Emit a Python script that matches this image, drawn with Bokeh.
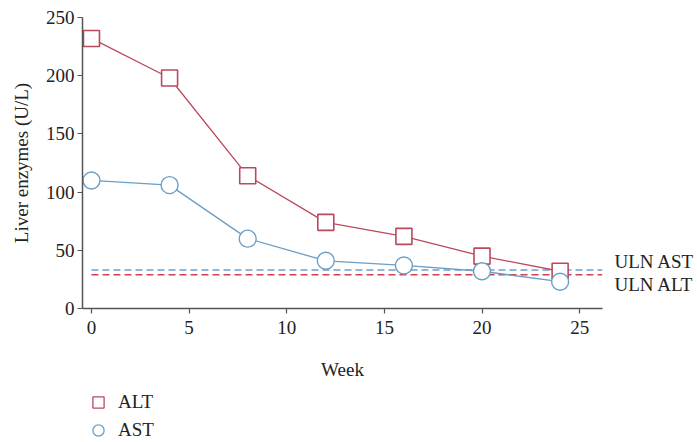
from bokeh.plotting import figure
from bokeh.layouts import column
from bokeh.models import Range1d, Legend, LegendItem, LinearAxis, FixedTicker
from bokeh.embed import file_html
from bokeh.resources import INLINE

weeks = [0, 4, 8, 12, 16, 20, 24]
alt = [232, 198, 114, 74, 62, 45, 32]
ast = [110, 106, 60, 41, 37, 32, 23]
uln_ast = 33
uln_alt = 29
uln_labels = {40: "ULN AST", 21: "ULN ALT"}
x_ticks = [0, 5, 10, 15, 20, 25]
y_ticks = [0, 50, 100, 150, 200, 250]

ALT_C = "#b94a5c"
AST_C = "#6a9ec5"
FONT = "Liberation Serif"
FS = "19px"
AX = "#555555"
TXT = "#222222"
X_START, X_END = -0.46, 26.17
NAN = float("nan")

p = figure(width=697, height=382, output_backend="svg", toolbar_location=None,
           x_range=Range1d(X_START, X_END), y_range=Range1d(0, 250),
           min_border_left=82, min_border_right=93, min_border_top=17, min_border_bottom=74)
p.outline_line_color = None
p.xgrid.visible = False
p.ygrid.visible = False

for ax in (p.xaxis[0], p.yaxis[0]):
    ax.axis_line_color = AX
    ax.axis_line_width = 1.5
    ax.major_tick_line_color = AX
    ax.major_tick_line_width = 1.2
    ax.major_tick_out = 5
    ax.major_tick_in = 0
    ax.minor_tick_line_color = None
    ax.major_label_text_font = FONT
    ax.major_label_text_font_size = FS
    ax.major_label_text_color = TXT
    ax.axis_label_text_font = FONT
    ax.axis_label_text_font_size = FS
    ax.axis_label_text_font_style = "normal"
    ax.axis_label_text_color = TXT
p.xaxis.ticker = x_ticks
p.yaxis.ticker = y_ticks
p.xaxis.axis_label = "Week"
p.yaxis.axis_label = "Liver enzymes (U/L)"
p.xaxis.major_label_standoff = 7
p.xaxis.axis_label_standoff = 22
p.yaxis.major_label_standoff = 3
p.yaxis.axis_label_standoff = 11

# ULN reference lines
p.line([weeks[0], X_END], [uln_ast, uln_ast], line_color="#8fb8d8", line_width=2, line_dash="7 4")
p.line([weeks[0], X_END], [uln_alt, uln_alt], line_color="#d04050", line_width=1.5, line_dash="7 4")

p.line(weeks, alt, line_color=ALT_C, line_width=1.3)
p.line(weeks, ast, line_color=AST_C, line_width=1.3)
p.scatter(weeks, alt, marker="square", size=16, fill_color="white",
          line_color=ALT_C, line_width=1.6)
p.scatter(weeks, ast, marker="circle", size=17, fill_color="white",
          line_color=AST_C, line_width=1.4)

# ULN labels via a right-hand axis
rax = LinearAxis(ticker=FixedTicker(ticks=list(uln_labels.keys())),
                 major_label_overrides=uln_labels)
rax.axis_line_color = None
rax.major_tick_line_color = None
rax.minor_tick_line_color = None
rax.major_label_standoff = 6
rax.major_label_text_font = FONT
rax.major_label_text_font_size = FS
rax.major_label_text_color = TXT
p.add_layout(rax, "right")

# Legend strip below the chart
lg = figure(width=697, height=60, output_backend="svg", toolbar_location=None,
            x_axis_location=None, y_axis_location=None,
            x_range=Range1d(0, 1), y_range=Range1d(0, 1),
            min_border_left=0, min_border_right=0, min_border_top=0, min_border_bottom=0)
lg.outline_line_color = None
lg.xgrid.visible = False
lg.ygrid.visible = False
l_alt = lg.scatter([NAN], [NAN], marker="square", fill_color="white", line_color=ALT_C, line_width=1.3)
l_ast = lg.scatter([NAN], [NAN], marker="circle", fill_color="white", line_color=AST_C, line_width=1.3)
legend = Legend(items=[LegendItem(label="ALT", renderers=[l_alt]),
                       LegendItem(label="AST", renderers=[l_ast])],
                location=(0, -2), orientation="vertical", padding=0, margin=0,
                border_line_color=None, background_fill_alpha=0,
                glyph_width=32, glyph_height=28, label_height=20, spacing=-2,
                label_standoff=4, label_text_font=FONT, label_text_font_size=FS,
                label_text_color=TXT)
lg.add_layout(legend)

open("out.html", "w").write(file_html(column(p, lg), INLINE))
